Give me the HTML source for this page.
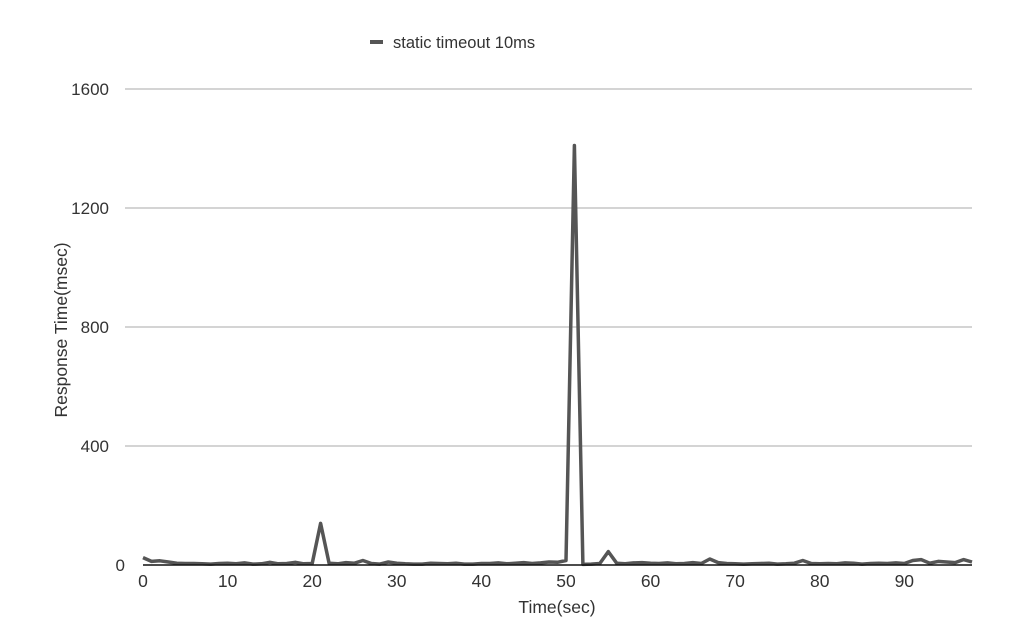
<!DOCTYPE html>
<html><head><meta charset="utf-8"><style>
body{margin:0;background:#fff;font-family:"Liberation Sans",sans-serif;}
svg text{font-family:"Liberation Sans",sans-serif;fill:#333;}
</style></head><body>
<svg id="chart" width="1024" height="625" xmlns="http://www.w3.org/2000/svg">
<g id="grid"></g>
<g id="yt"></g>
<g id="xt"></g>
<path id="line" fill="none" stroke="#555" stroke-width="3.5" stroke-linejoin="round"></path>
<line x1="143" y1="565" x2="972" y2="565" stroke="#111" stroke-width="1.5"/>
<text transform="translate(67,330) rotate(-90)" text-anchor="middle" font-size="17.5">Response Time(msec)</text>
<text x="557" y="613" text-anchor="middle" font-size="17.5">Time(sec)</text>
<g>
<line x1="370" y1="42" x2="383" y2="42" stroke="#555" stroke-width="4"/>
<text x="393" y="48" font-size="16.5">static timeout 10ms</text>
</g>
</svg>
<script>
const times=[];for(let i=0;i<=98;i++)times.push(i);
const values=[25,12,14,10,6,5,5,4,3,5,6,4,7,3,4,9,4,5,9,4,5,140,6,4,8,6,15,5,3,10,6,4,3,3,6,5,4,6,3,3,5,5,7,4,6,8,5,7,10,9,15,1410,2,3,5,45,6,4,7,8,6,5,7,4,5,8,5,20,8,5,4,3,4,5,6,3,4,6,15,5,4,5,4,7,6,3,5,6,5,7,5,15,18,6,12,10,8,18,10];
const yTicks=[0,400,800,1200,1600];
const xTicks=[0,10,20,30,40,50,60,70,80,90];
const x0=143,x1=972,y0=565,y1=89;
const xs=v=>x0+(v/98)*(x1-x0);
const ys=v=>y0-(v/1600)*(y0-y1);
const NS="http://www.w3.org/2000/svg";
const grid=document.getElementById('grid'),yt=document.getElementById('yt'),xt=document.getElementById('xt');
yTicks.forEach(t=>{
 if(t>0){const l=document.createElementNS(NS,'line');
 
 
 l.setAttribute('x1',125);l.setAttribute('x2',972);l.setAttribute('y1',ys(t));l.setAttribute('y2',ys(t));
 l.setAttribute('stroke','#bbb');l.setAttribute('stroke-width','1.3');grid.appendChild(l);}
 const tx=document.createElementNS(NS,'text');
 
 
 tx.setAttribute('x',t===0?125:109);tx.setAttribute('y',ys(t)+6);tx.setAttribute('text-anchor','end');tx.setAttribute('font-size','17');
 tx.textContent=t;yt.appendChild(tx);
});
xTicks.forEach(t=>{
 const tx=document.createElementNS(NS,'text');
 
 
 tx.setAttribute('x',xs(t));tx.setAttribute('y',587);tx.setAttribute('text-anchor','middle');tx.setAttribute('font-size','17.5');
 tx.textContent=t;xt.appendChild(tx);
});
document.getElementById('line').setAttribute('d',values.map((v,i)=>(i?'L':'M')+xs(times[i]).toFixed(1)+','+ys(v).toFixed(1)).join(''));
</script>
</body></html>
